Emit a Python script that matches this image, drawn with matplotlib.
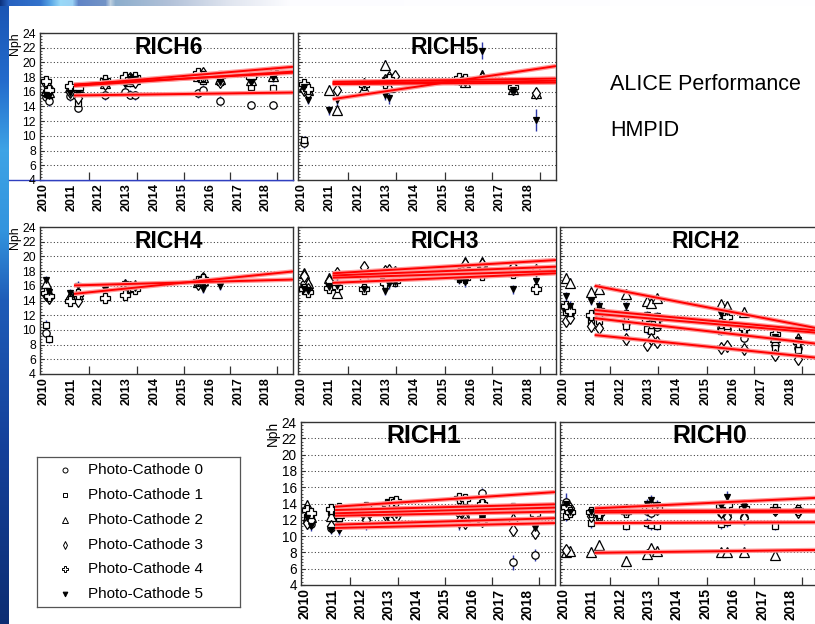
import numpy as np
import matplotlib
matplotlib.use("Agg")
import matplotlib.pyplot as plt
from matplotlib.ticker import MultipleLocator, FixedLocator

plt.rcParams['font.family'] = ['Liberation Sans', 'DejaVu Sans']

W, H = 815, 624
nan = np.nan

# ---------------------------------------------------------------- data
run_dates = [2010.10, 2010.22, 2010.97, 2011.25, 2012.20, 2012.95, 2013.10,
             2013.28, 2015.55, 2015.75, 2016.35, 2017.45, 2018.25]
year_labels = [2010, 2011, 2012, 2013, 2014, 2015, 2016, 2017, 2018]
nph_ticks = [4, 6, 8, 10, 12, 14, 16, 18, 20, 22, 24]
legend_labels = ['Photo-Cathode 0', 'Photo-Cathode 1', 'Photo-Cathode 2',
                 'Photo-Cathode 3', 'Photo-Cathode 4', 'Photo-Cathode 5']

rich6_pc0 = [15.3, 14.7, 15.4, 13.8, 15.5, 16.0, 15.6, 15.5, 15.8, 16.2, 14.8, 14.2, 14.2]
rich6_pc1 = [15.8, 15.5, 16.3, 14.5, 17.3, 17.9, 17.3, 17.6, 18.1, 17.5, 17.4, 16.7, 16.5]
rich6_pc2 = [16.2, 16.0, 16.6, 16.7, 17.2, 17.8, 17.5, 17.8, 18.2, 18.0, 17.8, 17.6, 18.1]
rich6_pc3 = [17.0, 16.5, 16.0, 15.2, 17.0, 17.5, 17.9, 17.4, 18.3, 18.5, 17.3, 17.8, 18.4]
rich6_pc4 = [17.5, 16.2, 16.8, 16.5, 17.6, 18.0, 17.8, 18.0, 18.6, 18.1, 18.2, 18.0, 18.7]
rich6_pc5 = [15.6, 15.4, 15.8, 15.9, 17.4, 17.2, 17.7, 17.7, 17.9, 18.0, 17.3, 17.3, 18.0]
rich6_fits = [(15.5, 15.9), (16.9, 19.4), (16.8, 18.75), (17.0, 18.6)]

rich5_pc0 = [9.0, nan, nan, nan, nan, nan, nan, nan, nan, nan, nan, nan, nan]
rich5_pc1 = [9.4, nan, nan, nan, nan, nan, nan, nan, nan, nan, nan, nan, nan]
rich5_pc2 = [16.8, 16.2, 16.3, 13.5, 16.5, 19.7, 16.7, nan, 17.7, 17.4, 18.3, 16.4, 15.9]
rich5_pc3 = [16.2, 15.9, nan, 16.3, 17.0, 17.6, 18.0, 18.1, 17.8, 17.6, 17.9, 16.4, 15.9]
rich5_pc4 = [17.0, 16.4, nan, nan, 16.9, 17.2, 17.8, nan, 17.9, 17.7, nan, 16.6, nan]
rich5_pc5 = [16.6, 14.9, 13.5, 14.9, 16.9, 15.5, 15.1, nan, 17.5, 17.3, 21.6, 16.3, 12.1]
rich5_pc5_err = [0.6, 0.6, 0.6, 0.8, 0.6, 0.6, 0.7, 0.6, 0.5, 0.5, 1.2, 0.7, 1.5]
rich5_fits = [(15.0, 19.5), (17.35, 17.8), (17.15, 17.5), (17.05, 17.25)]

rich4_pc0 = [9.6, nan, nan, nan, nan, nan, nan, nan, nan, nan, nan, nan, nan]
rich4_pc1 = [10.7, 8.8, nan, nan, nan, nan, nan, nan, nan, nan, nan, nan, nan]
rich4_pc2 = [16.4, 15.0, 14.6, 14.9, nan, 16.3, 16.0, 16.1, 16.5, 16.8, nan, nan, nan]
rich4_pc3 = [14.8, 14.3, 14.3, 13.9, nan, 16.0, 15.9, 15.7, 16.3, 17.0, nan, nan, nan]
rich4_pc4 = [15.0, 14.6, 14.0, 14.9, 14.4, 14.8, 15.8, 15.6, 16.6, 16.9, nan, nan, nan]
rich4_pc5 = [16.8, 15.1, 15.0, 16.0, 15.6, 16.2, 16.0, 15.7, 16.4, 15.6, 16.0, nan, nan]
rich4_fits = [(16.05, 16.85), (14.9, 17.95)]

rich3_pc0 = [16.3, 16.0, 16.5, 15.9, nan, 16.8, 17.0, 16.9, 17.3, 17.6, 17.7, 18.6, 18.2]
rich3_pc1 = [15.8, 15.5, 16.2, 16.3, 17.3, 17.2, 17.1, 17.4, 17.6, 17.4, 17.8, 18.0, nan]
rich3_pc2 = [17.7, 16.4, 17.1, 15.0, 17.3, 17.8, 18.2, 17.6, 18.0, 19.3, 19.3, 18.0, nan]
rich3_pc3 = [17.3, 15.6, 16.6, 17.7, 18.6, 18.0, 18.2, 17.9, 17.7, 19.0, 19.0, 18.6, 18.2]
rich3_pc4 = [15.5, 15.2, 15.7, 15.9, 15.5, 16.4, 17.0, 16.6, 17.2, 17.0, 17.5, 17.7, 15.5]
rich3_pc5 = [15.6, 15.3, 15.9, 16.0, 15.5, 15.3, 16.2, 16.5, 16.8, 16.5, 17.6, 15.5, 16.6]
rich3_fits = [(17.7, 19.5), (17.4, 18.6), (17.1, 18.0), (16.4, 17.7)]

rich2_pc0 = [12.8, 12.3, 11.9, 11.6, 11.0, 11.0, 10.6, 10.4, 10.3, 10.1, 8.9, 8.0, 7.6]
rich2_pc1 = [12.5, 12.1, 11.2, 11.2, 10.5, 10.1, 9.9, 10.7, 9.9, 10.5, 9.8, 7.6, 7.3]
rich2_pc2 = [17.1, 16.4, 15.2, 15.6, 14.9, 13.9, 13.7, 14.3, 13.5, 13.2, 12.5, 9.0, 8.9]
rich2_pc3 = [11.2, 11.6, 10.5, 10.2, 8.8, 8.0, 8.7, 8.4, 7.5, 7.8, 7.4, 6.6, 6.1]
rich2_pc4 = [13.2, 12.6, 12.0, 12.7, 12.0, 11.3, 11.0, 11.5, 11.0, 11.8, 10.3, 9.4, 8.3]
rich2_pc5 = [14.6, 13.3, 14.0, 13.3, 13.2, 12.0, 11.5, 11.9, 12.1, 12.4, 10.5, 9.1, 8.6]
rich2_fits = [(16.0, 10.2), (12.7, 9.9), (12.2, 9.6), (11.6, 8.1), (9.3, 6.2)]

rich1_pc0 = [11.8, 11.5, 11.0, 11.4, 12.1, 12.6, 12.5, 12.9, 12.8, 12.3, 15.3, 6.8, 7.7]
rich1_pc0_err = [0.6, 0.6, 0.5, 0.5, 0.6, 0.5, 0.5, 0.5, 0.5, 0.5, 0.6, 0.9, 0.7]
rich1_pc1 = [12.4, 12.1, 13.0, 12.2, 13.4, 13.2, 12.8, 12.6, 13.4, 12.0, 14.1, 13.3, nan]
rich1_pc2 = [13.8, 12.3, 12.5, 12.8, 13.0, 13.5, 13.8, 13.1, 13.6, 12.4, 12.4, 12.2, nan]
rich1_pc3 = [11.6, 12.0, 11.3, 11.1, 12.0, 12.4, 12.2, 12.3, 11.8, 11.6, 11.8, 10.8, 10.4]
rich1_pc4 = [13.2, 12.8, 13.3, 13.4, 13.6, 14.0, 14.2, 14.3, 14.7, 14.5, 14.0, 13.5, 12.7]
rich1_pc5 = [12.2, 11.3, 10.8, 10.7, 11.4, 12.4, 12.7, 12.6, 11.4, 11.6, 12.2, 13.4, 11.0]
rich1_pc5_err = [1.3, 0.7, 0.6, 0.6, 0.7, 0.6, 0.6, 0.6, 0.6, 0.6, 0.6, 0.7, 0.6]
rich1_fits = [(13.6, 15.4), (13.2, 13.9), (12.8, 13.5), (12.5, 13.0), (11.4, 12.2), (11.0, 11.6)]

rich0_pc0 = [14.2, 13.3, 12.9, 12.6, 13.0, 13.1, 12.8, 13.2, 12.8, 12.6, 12.4, nan, nan]
rich0_pc1 = [12.5, 13.0, 11.6, 12.3, 11.3, 11.6, 11.4, 11.3, 11.5, 11.7, 12.0, 11.3, nan]
rich0_pc2 = [8.1, 8.2, 8.1, 8.9, 7.0, 7.8, 8.5, 8.2, 8.0, 8.0, 8.1, 7.7, nan]
rich0_pc3 = [8.3, 13.5, 12.5, 12.6, 13.2, 13.5, 13.8, 13.3, 12.9, 12.3, 12.2, 13.2, 13.0]
rich0_pc4 = [13.6, 12.9, 13.0, 12.8, 13.0, 13.4, 13.6, 13.5, 13.7, 13.8, 13.4, 13.3, 13.2]
rich0_pc5 = [14.0, 13.0, 12.9, 13.2, 12.9, 13.9, 14.4, 13.8, 13.7, 14.8, 13.6, 13.2, 13.2]
rich0_pc5_err = [1.3, 0.6, 0.6, 0.6, 0.6, 0.6, 0.6, 0.6, 0.6, 0.7, 0.9, 0.6, 0.5]
rich0_fits = [(13.4, 14.7), (13.1, 13.15), (12.9, 13.0), (11.6, 11.7), (7.95, 8.3)]

default_err = 0.6
fit_span = (2011.1, 2018.97)

chamber_series = {
    'RICH6': [rich6_pc0, rich6_pc1, rich6_pc2, rich6_pc3, rich6_pc4, rich6_pc5],
    'RICH5': [rich5_pc0, rich5_pc1, rich5_pc2, rich5_pc3, rich5_pc4, rich5_pc5],
    'RICH4': [rich4_pc0, rich4_pc1, rich4_pc2, rich4_pc3, rich4_pc4, rich4_pc5],
    'RICH3': [rich3_pc0, rich3_pc1, rich3_pc2, rich3_pc3, rich3_pc4, rich3_pc5],
    'RICH2': [rich2_pc0, rich2_pc1, rich2_pc2, rich2_pc3, rich2_pc4, rich2_pc5],
    'RICH1': [rich1_pc0, rich1_pc1, rich1_pc2, rich1_pc3, rich1_pc4, rich1_pc5],
    'RICH0': [rich0_pc0, rich0_pc1, rich0_pc2, rich0_pc3, rich0_pc4, rich0_pc5],
}
chamber_errors = {
    ('RICH5', 5): rich5_pc5_err,
    ('RICH1', 0): rich1_pc0_err,
    ('RICH1', 5): rich1_pc5_err,
    ('RICH0', 5): rich0_pc5_err,
}
chamber_fits = {
    'RICH6': rich6_fits, 'RICH5': rich5_fits, 'RICH4': rich4_fits,
    'RICH3': rich3_fits, 'RICH2': rich2_fits, 'RICH1': rich1_fits,
    'RICH0': rich0_fits,
}

# ---------------------------------------------------------------- styles
marker_styles = [
    dict(marker='o', ms=5.3, mfc='white'),
    dict(marker='s', ms=5.0, mfc='white'),
    dict(marker='^', ms=6.6, mfc='white'),
    dict(marker='d', ms=6.0, mfc='white'),
    dict(marker='P', ms=6.6, mfc='white'),
    dict(marker='v', ms=5.0, mfc='black'),
]
ERR_COLOR = '#2c37a6'
FIT_COLOR = '#ff0000'

# name, frame box in pixels (x0, y0, x1, y1), title centre, title size,
# show y labels, tick font scale
layout = [
    ('RICH6', (40, 33, 293, 180), (169, 47), 16.5, True, 1.0),
    ('RICH5', (298, 33, 556, 180), (445, 47), 16.5, False, 1.0),
    ('RICH4', (40, 227, 293, 374), (169, 241), 16.5, True, 1.0),
    ('RICH3', (298, 227, 556, 374), (445, 241), 16.5, False, 1.0),
    ('RICH2', (560, 227, 818, 374), (706, 241), 16.5, False, 1.0),
    ('RICH1', (301, 422, 555, 585), (424, 436), 18.0, True, 1.12),
    ('RICH0', (560, 422, 818, 585), (710, 436), 18.0, False, 1.12),
]
x_range = (2009.88, 2018.97)
x_axis_ticks = [2011.65, 2013.35, 2015.05, 2016.72, 2018.40]


def px_box(x0, y0, x1, y1):
    return [x0 / W, 1 - y1 / H, (x1 - x0) / W, (y1 - y0) / H]


def fx(x):
    return x / W


def fy(y):
    return 1 - y / H


fig = plt.figure(figsize=(W / 100, H / 100), dpi=100)

# slide background: blue band along the top and left edges
bg = fig.add_axes([0, 0, 1, 1], zorder=-5)
img = np.ones((H, W, 3))
left_stops_y = [0, 80, 150, 230, 300, 450, 624]
left_stops_c = np.array([(0.10, 0.33, 0.70), (0.14, 0.42, 0.80), (0.24, 0.64, 0.90),
                         (0.20, 0.58, 0.87), (0.12, 0.36, 0.72), (0.08, 0.25, 0.60),
                         (0.05, 0.18, 0.45)])
rows = np.arange(H)
for ch in range(3):
    img[:, :9, ch] = np.interp(rows, left_stops_y, left_stops_c[:, ch])[:, None]
top_stops_x = [0, 8, 40, 50, 60, 72, 78, 105, 110, 115, 170, 230, 290, 815]
top_stops_c = np.array([(0.05, 0.20, 0.50), (0.15, 0.38, 0.75), (0.20, 0.45, 0.80),
                        (0.35, 0.65, 0.90), (0.60, 0.85, 0.97), (0.60, 0.82, 0.96),
                        (0.38, 0.52, 0.78), (0.45, 0.58, 0.78), (0.75, 0.82, 0.88),
                        (0.55, 0.68, 0.80), (0.70, 0.76, 0.85), (0.88, 0.90, 0.94),
                        (0.99, 0.99, 1.00), (1.0, 1.0, 1.0)])
cols = np.arange(W)
for ch in range(3):
    img[:6, :, ch] = np.interp(cols, top_stops_x, top_stops_c[:, ch])[None, :]
bg.imshow(img, aspect='auto', extent=(0, W, H, 0), interpolation='bilinear')
bg.set_xlim(0, W)
bg.set_ylim(H, 0)
bg.axis('off')

for name, (x0, y0, x1, y1), (tx, ty), tsize, show_y, fscale in layout:
    ax = fig.add_axes(px_box(x0, y0, x1, y1))
    ax.set_xlim(*x_range)
    ax.set_ylim(nph_ticks[0], nph_ticks[-1])

    for v in nph_ticks[1:-1]:
        ax.axhline(v, color='#3a3a3a', lw=0.75, ls=(0, (1.0, 2.2)), zorder=0)

    series = chamber_series[name]
    for k, vals in enumerate(series):
        yv = np.array(vals, dtype=float)
        xv = np.array(run_dates)
        ev = np.array(chamber_errors.get((name, k), [default_err] * len(vals)))
        ok = ~np.isnan(yv)
        ax.errorbar(xv[ok], yv[ok], yerr=ev[ok], fmt='none', ecolor=ERR_COLOR,
                    elinewidth=1.0, capsize=0, zorder=2)
        st = marker_styles[k]
        ax.plot(xv[ok], yv[ok], ls='none', marker=st['marker'], ms=st['ms'],
                mfc=st['mfc'], mec='black', mew=0.9, zorder=3)

    for a, b in chamber_fits[name]:
        ax.plot(fit_span, (a, b), color='#ff9a9a', lw=3.2, zorder=4,
                solid_capstyle='butt')
        ax.plot(fit_span, (a, b), color=FIT_COLOR, lw=1.4, zorder=5,
                solid_capstyle='butt')

    for sp in ax.spines.values():
        sp.set_color('#333333')
        sp.set_linewidth(1.0)
    if name == 'RICH6':
        ax.spines['bottom'].set_color('#2f3fbf')

    ax.xaxis.set_major_locator(FixedLocator(year_labels))
    ax.xaxis.set_minor_locator(FixedLocator(x_axis_ticks))
    ax.set_xticklabels([str(y) for y in year_labels], rotation=90,
                       fontsize=9.0 * fscale, fontweight='bold')
    ax.tick_params(axis='x', which='major', length=0, pad=2.5)
    ax.tick_params(axis='x', which='minor', length=5.5, width=0.9,
                   direction='in', color='#333333')

    ax.yaxis.set_major_locator(FixedLocator(nph_ticks))
    ax.yaxis.set_minor_locator(MultipleLocator(0.4))
    ax.tick_params(axis='y', which='major', length=3.0, width=0.8,
                   direction='in', color='#333333', labelsize=8.8 * fscale, pad=3)
    ax.tick_params(axis='y', which='minor', length=1.6, width=0.6,
                   direction='in', color='#333333')
    if not show_y:
        ax.tick_params(axis='y', labelleft=False)

    fig.text(fx(tx), fy(ty), name, fontsize=tsize, fontweight='bold',
             ha='center', va='center', zorder=10)

    if show_y:
        fig.text(fx(x0 - 25 * fscale), fy(y0 - 1), 'Nph', rotation=90,
                 fontsize=8.8 * fscale, ha='center', va='top')

# blue line along the bottom of the RICH6 frame
bg.plot([9, 293], [180, 180], color='#2f3fbf', lw=1.0)

fig.text(fx(610), fy(84), 'ALICE Performance', fontsize=15.5, ha='left', va='center')
fig.text(fx(610), fy(130), 'HMPID', fontsize=15.5, ha='left', va='center')

# legend box
lg = fig.add_axes(px_box(37, 457, 240, 607))
lg.set_xlim(37, 240)
lg.set_ylim(607, 457)
lg.set_xticks([])
lg.set_yticks([])
for sp in lg.spines.values():
    sp.set_color('#555555')
    sp.set_linewidth(0.9)
legend_rows = [470, 495, 520, 545, 569, 594]
for k, (lab, ry) in enumerate(zip(legend_labels, legend_rows)):
    st = marker_styles[k]
    lg.plot([65], [ry], ls='none', marker=st['marker'], ms=st['ms'] * 0.68,
            mfc=st['mfc'], mec='black', mew=0.7)
    lg.text(88, ry, lab, fontsize=11, ha='left', va='center')

fig.savefig('out.png', dpi=100)
